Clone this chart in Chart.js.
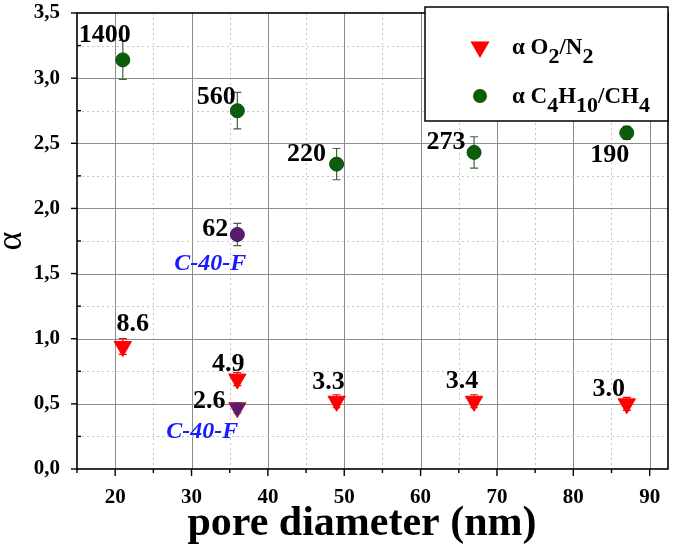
<!DOCTYPE html>
<html><head><meta charset="utf-8">
<script src="https://cdn.jsdelivr.net/npm/chart.js@4"></script>
<style>html,body{margin:0;padding:0;background:#fff;overflow:hidden}#wrap{width:679px;height:557px;position:relative}</style>
</head><body><div id="wrap"><canvas id="c"></canvas></div>
<script>
// ---- data ----
const poreX = [21, 36, 49, 67, 87];
const o2n2Alpha = [0.94, 0.69, 0.52, 0.52, 0.50];
const o2n2Err = [0.06, 0.05, 0.05, 0.05, 0.05];
const o2n2Perm = ['8.6', '4.9', '3.3', '3.4', '3.0'];
const c4Alpha = [3.14, 2.75, 2.34, 2.43, 2.58];
const c4Err = [0.15, 0.14, 0.12, 0.12, 0.05];
const c4Perm = ['1400', '560', '220', '273', '190'];
const c40fX = [36];
const c40fC4Alpha = [1.80];
const c40fC4Err = [0.085];
const c40fC4Perm = ['62'];
const c40fO2Alpha = [0.47];
const c40fO2Err = [0.04];
const c40fO2Perm = ['2.6'];
const c40fName = 'C-40-F';
const xTicks = [15, 20, 25, 30, 35, 40, 45, 50, 55, 60, 65, 70, 75, 80, 85, 90];
const yTicks = [0, 0.25, 0.5, 0.75, 1, 1.25, 1.5, 1.75, 2, 2.25, 2.5, 2.75, 3, 3.25, 3.5];
const legendO2 = 'α O2/N2';
const legendC4 = 'α C4H10/CH4';

// ---- styling (label placement relative to marker, px) ----
const FONT = "'Liberation Serif', 'Times New Roman', serif";
const o2Off = [[10, -24], [-9, -17], [-8, -21], [-12, -22], [-18, -17]];
const c4Off = [[-18, -27], [-21, -16], [-30, -12], [-28, -12], [-17, 20]];
const fC4Off = [[-22, -7]];
const fO2Off = [[-28, -9]];
const fC4NameOff = [-27, 28];
const fO2NameOff = [-35, 22];

const RED = '#ff0000', GREEN = '#0b5c0b', PURPLE = '#5a1a6e';

function pts(xs, ys) { return xs.map((x, i) => ({x: x, y: ys[i]})); }
function zeroPad(s) { s.paddingLeft = 0; s.paddingRight = 0; s.paddingTop = 0; s.paddingBottom = 0; }

const datasets = [
  {label: legendO2, data: pts(poreX, o2n2Alpha), pointStyle: 'triangle', rotation: 180, radius: 10,
   backgroundColor: RED, borderColor: RED, borderWidth: 1,
   errs: o2n2Err, errColor: RED, texts: o2n2Perm, offs: o2Off},
  {label: legendC4, data: pts(poreX, c4Alpha), pointStyle: 'circle', radius: 7,
   backgroundColor: GREEN, borderColor: '#0a4a0a', borderWidth: 1,
   errs: c4Err, errColor: '#3a6a3a', texts: c4Perm, offs: c4Off},
  {label: c40fName + ' C4', data: pts(c40fX, c40fC4Alpha), pointStyle: 'circle', radius: 7,
   backgroundColor: PURPLE, borderColor: '#4a1060', borderWidth: 1,
   errs: c40fC4Err, errColor: '#3a6a3a', texts: c40fC4Perm, offs: fC4Off, name: c40fName, nameOff: fC4NameOff},
  {label: c40fName + ' O2', data: pts(c40fX, c40fO2Alpha), pointStyle: 'triangle', rotation: 180, radius: 10,
   backgroundColor: PURPLE, borderColor: '#b02040', borderWidth: 1,
   errs: c40fO2Err, errColor: '#b02040', texts: c40fO2Perm, offs: fO2Off, name: c40fName, nameOff: fO2NameOff}
];

const decor = {
  id: 'decor',
  beforeDatasetsDraw(chart) {
    const {ctx, chartArea: a, scales: {x, y}} = chart;
    ctx.save();
    xTicks.forEach(v => {
      const px = Math.round(x.getPixelForValue(v)) + 0.5;
      if (px <= a.left + 1) return;
      const major = v % 10 === 0;
      ctx.beginPath();
      ctx.strokeStyle = major ? '#8c8c8c' : '#c4c4c4';
      ctx.lineWidth = 1;
      ctx.setLineDash(major ? [] : [2, 3]);
      ctx.moveTo(px, a.top); ctx.lineTo(px, a.bottom); ctx.stroke();
    });
    yTicks.forEach(v => {
      const py = Math.round(y.getPixelForValue(v)) + 0.5;
      if (py >= a.bottom - 1 || py <= a.top + 1) return;
      const major = Math.abs(v * 2 - Math.round(v * 2)) < 1e-6;
      ctx.beginPath();
      ctx.strokeStyle = major ? '#8c8c8c' : '#c4c4c4';
      ctx.lineWidth = 1;
      ctx.setLineDash(major ? [] : [2, 3]);
      ctx.moveTo(a.left, py); ctx.lineTo(a.right, py); ctx.stroke();
    });
    ctx.setLineDash([]);
    ctx.strokeStyle = '#000';
    ctx.lineWidth = 1.6;
    ctx.strokeRect(a.left, a.top, a.right - a.left, a.bottom - a.top);
    ctx.lineWidth = 1.4;
    xTicks.forEach(v => {
      const px = x.getPixelForValue(v);
      const major = v % 10 === 0;
      ctx.beginPath(); ctx.moveTo(px, a.bottom); ctx.lineTo(px, a.bottom + (major ? 7 : 4)); ctx.stroke();
    });
    yTicks.forEach(v => {
      const py = y.getPixelForValue(v);
      const major = Math.abs(v * 2 - Math.round(v * 2)) < 1e-6;
      ctx.beginPath();
      if (major) { ctx.moveTo(a.left, py); ctx.lineTo(a.left - 6, py); }
      else { ctx.moveTo(a.left, py); ctx.lineTo(a.left + 4, py); }
      ctx.stroke();
    });
    chart.data.datasets.forEach(ds => {
      ds.data.forEach((p, i) => {
        const e = ds.errs[i];
        const px = x.getPixelForValue(p.x);
        const top = y.getPixelForValue(p.y + e), bot = y.getPixelForValue(p.y - e);
        ctx.strokeStyle = ds.errColor; ctx.lineWidth = 1.2;
        ctx.beginPath();
        ctx.moveTo(px, top); ctx.lineTo(px, bot);
        ctx.moveTo(px - 4, top); ctx.lineTo(px + 4, top);
        ctx.moveTo(px - 4, bot); ctx.lineTo(px + 4, bot);
        ctx.stroke();
      });
    });
    ctx.restore();
  },
  afterDatasetsDraw(chart) {
    const {ctx, scales: {x, y}} = chart;
    ctx.save();
    ctx.textAlign = 'center';
    ctx.textBaseline = 'alphabetic';
    chart.data.datasets.forEach(ds => {
      ds.data.forEach((p, i) => {
        const px = x.getPixelForValue(p.x), py = y.getPixelForValue(p.y);
        const o = ds.offs[i];
        ctx.font = 'bold 26px ' + FONT;
        ctx.fillStyle = '#000';
        ctx.fillText(ds.texts[i], px + o[0], py + o[1] + 0.34 * 26);
        if (ds.name) {
          ctx.font = 'italic bold 24px ' + FONT;
          ctx.fillStyle = '#1a1aff';
          ctx.fillText(ds.name, px + ds.nameOff[0], py + ds.nameOff[1] + 0.33 * 24);
        }
      });
    });
    ctx.restore();
  },
  afterDraw(chart) {
    const {ctx, chartArea: a} = chart;
    const w = 243, h = 114;
    const L = a.right - w, T = a.top - 6;
    ctx.save();
    ctx.fillStyle = '#fff';
    ctx.fillRect(L, T, w, h);
    ctx.strokeStyle = '#000'; ctx.lineWidth = 1.5;
    ctx.strokeRect(L, T, w, h);
    const items = [chart.data.datasets[0], chart.data.datasets[1]];
    const rowsY = [T + 40, T + 89];
    items.forEach((ds, k) => {
      const cy = rowsY[k];
      const mx = L + 55;
      ctx.fillStyle = ds.backgroundColor;
      ctx.beginPath();
      if (ds.pointStyle === 'triangle') {
        const r = 11;
        ctx.moveTo(mx, cy + r);
        ctx.lineTo(mx - r * 0.866, cy - r * 0.5);
        ctx.lineTo(mx + r * 0.866, cy - r * 0.5);
        ctx.closePath();
      } else {
        ctx.arc(mx, cy, 7, 0, Math.PI * 2);
      }
      ctx.fill();
      let tx = L + 87;
      const base = cy + 7;
      const parts = ds.label.match(/(?<=[A-Za-z])\d+|[^\d]+|\d+/g);
      parts.forEach(s => {
        const isSub = /^\d+$/.test(s);
        ctx.font = (isSub ? 'bold 22px ' : 'bold 23px ') + FONT;
        ctx.fillStyle = '#000';
        ctx.textAlign = 'left';
        ctx.fillText(s, tx, isSub ? base + 9 : base);
        tx += ctx.measureText(s).width;
      });
    });
    ctx.restore();
  }
};

new Chart(document.getElementById('c'), {
  type: 'scatter',
  data: {datasets: datasets},
  options: {
    responsive: true, maintainAspectRatio: false, animation: false,
    layout: {padding: {top: 13, right: 7, left: 0, bottom: 0}},
    plugins: {legend: {display: false}, tooltip: {enabled: false}},
    scales: {
      x: {
        type: 'linear', min: 15, max: 92.4,
        afterBuildTicks: s => { s.ticks = xTicks.map(v => ({value: v})); },
        afterFit: s => { s.height = 88; zeroPad(s); },
        grid: {display: false}, border: {display: false},
        ticks: {
          padding: 8, color: '#000', font: {family: FONT, size: 21, weight: 'bold'},
          maxRotation: 0, autoSkip: false,
          callback: v => (v % 10 === 0 ? String(v) : '')
        },
        title: {display: true, text: 'pore diameter (nm)  ', color: '#000',
          font: {family: FONT, size: 42, weight: 'bold'}, padding: {top: 0, bottom: 8}}
      },
      y: {
        type: 'linear', min: 0, max: 3.5,
        afterBuildTicks: s => { s.ticks = yTicks.map(v => ({value: v})); },
        afterFit: s => { s.width = 77; zeroPad(s); },
        grid: {display: false}, border: {display: false},
        ticks: {
          padding: 9, color: '#000', font: {family: FONT, size: 21, weight: 'bold'},
          autoSkip: false,
          callback: v => (Math.abs(v * 2 - Math.round(v * 2)) < 1e-6 ? v.toFixed(1).replace('.', ',') : '')
        },
        title: {display: true, text: 'α', color: '#000',
          font: {family: FONT, size: 36, weight: 'normal', lineHeight: 0.65}, padding: {top: 0, bottom: 0}}
      }
    }
  },
  plugins: [decor]
});
</script></body></html>
